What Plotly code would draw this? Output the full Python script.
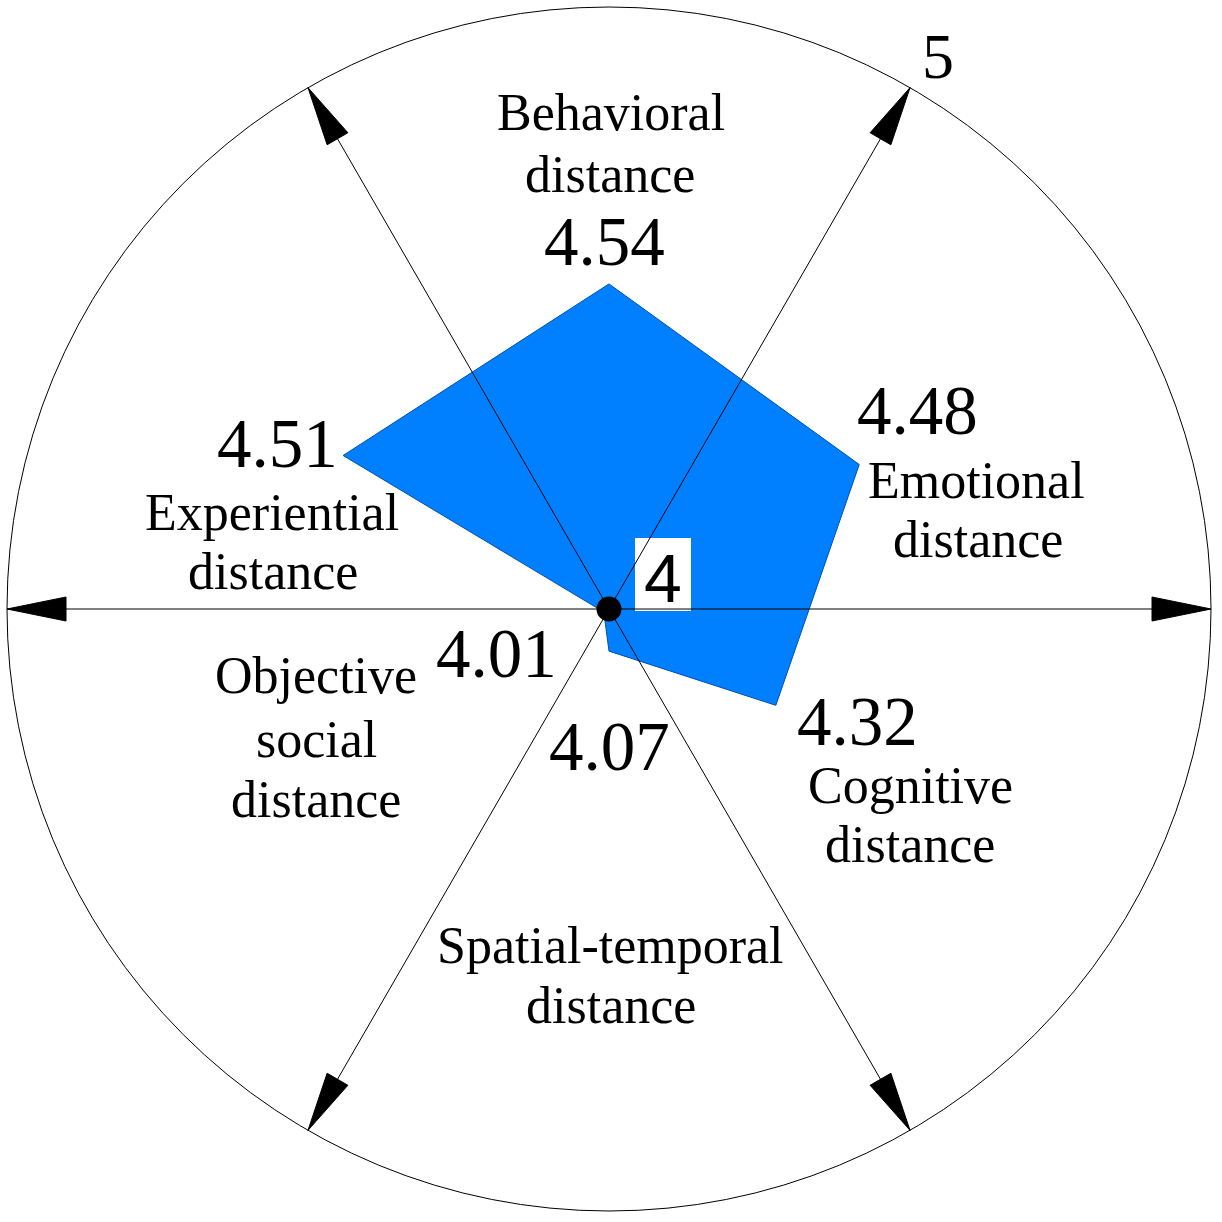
import math
import plotly.graph_objects as go

# ---- data ----
category_lines = [
    ["Behavioral", "distance"],
    ["Emotional", "distance"],
    ["Cognitive", "distance"],
    ["Spatial-temporal", "distance"],
    ["Objective", "social", "distance"],
    ["Experiential", "distance"],
]
values = [4.54, 4.48, 4.32, 4.07, 4.01, 4.51]
axis_angles = [90, 30, -30, -90, -150, 150]      # direction of each category axis (deg)
arrow_angles = [0, 60, 120, 180, 240, 300]       # decorative arrows
r_min, r_max = 4, 5
tick_labels = ["4", "5"]

# ---- layout helpers ----
W = H = 1222
CX, CY = 609, 609      # pixel centre
S = 602                # pixels per unit radius


def p2d(xp, yp):
    return (xp - CX) / S, (CY - yp) / S


def pol(r, ang):
    a = math.radians(ang)
    return r * math.cos(a), r * math.sin(a)


def norm(v):
    return (v - r_min) / (r_max - r_min)


fig = go.Figure()

# polygon
px_, py_ = [], []
for v, a in zip(values, axis_angles):
    x, y = pol(norm(v), a)
    px_.append(x)
    py_.append(y)
fig.add_trace(go.Scatter(
    x=px_ + [px_[0]], y=py_ + [py_[0]], mode="lines", fill="toself",
    fillcolor="#0080FF", line=dict(color="#0050B0", width=1),
    hoverinfo="skip", showlegend=False))

# centre dot
fig.add_trace(go.Scatter(x=[0], y=[0], mode="markers",
                         marker=dict(size=25, color="black"),
                         hoverinfo="skip", showlegend=False))

shapes = []
# outer circle
shapes.append(dict(type="circle", xref="x", yref="y", x0=-1, y0=-1, x1=1, y1=1,
                   line=dict(color="black", width=1), layer="below"))

# white box behind centre tick label "4"
bx0, by0 = p2d(635, 538)
bx1, by1 = p2d(691, 611)
shapes.append(dict(type="rect", xref="x", yref="y", x0=bx0, y0=by1, x1=bx1, y1=by0,
                   fillcolor="white", line=dict(width=0), layer="above"))

# arrows
head_len = 59 / S
head_half = 12 / S
for a in arrow_angles:
    tx, ty = pol(1, a)
    shapes.append(dict(type="line", xref="x", yref="y", x0=0, y0=0, x1=tx, y1=ty,
                       line=dict(color="black", width=1), layer="above"))
    bxc, byc = pol(1 - head_len, a)
    nx, ny = pol(head_half, a + 90)
    path = (f"M {tx},{ty} L {bxc + nx},{byc + ny} L {bxc - nx},{byc - ny} Z")
    shapes.append(dict(type="path", xref="x", yref="y", path=path,
                       fillcolor="black", line=dict(color="black", width=1), layer="above"))

annotations = []
NUM_FONT = dict(family="Liberation Serif", size=69, color="black")
LAB_FONT = dict(family="Liberation Serif", size=52, color="black")

# value labels (pixel offsets from vertex)
value_offsets = [(-5, 42), (58, 54), (82, -17), (0, -96), (-107, -42), (-66, 11)]
for v, a, (dx, dy), x, y in zip(values, axis_angles, value_offsets, px_, py_):
    annotations.append(dict(x=x, y=y, xref="x", yref="y", text=f"{v:.2f}",
                            showarrow=False, xshift=dx, yshift=dy,
                            xanchor="center", yanchor="middle", font=NUM_FONT))

# category labels, one line each (pixel centres)
label_centres = [
    [(611, 112.5), (610, 174.5)],
    [(976, 480.5), (978, 539.5)],
    [(910, 785.5), (910, 844.5)],
    [(610, 945.5), (611, 1005.5)],
    [(316, 675.5), (316, 739.5), (316, 799.5)],
    [(272, 512.5), (273, 571.5)],
]
for lines, centres in zip(category_lines, label_centres):
    for t, (xp, yp) in zip(lines, centres):
        x, y = p2d(xp, yp)
        annotations.append(dict(x=x, y=y, xref="x", yref="y", text=t, showarrow=False,
                                xanchor="center", yanchor="middle", font=LAB_FONT))

# tick labels
x4, y4 = p2d(663, 578)
annotations.append(dict(x=x4, y=y4, xref="x", yref="y", text=tick_labels[0], showarrow=False,
                        xanchor="center", yanchor="middle",
                        font=dict(family="Liberation Sans", size=68, color="black")))
x5, y5 = p2d(938, 56)
annotations.append(dict(x=x5, y=y5, xref="x", yref="y", text=tick_labels[1], showarrow=False,
                        xanchor="center", yanchor="middle",
                        font=dict(family="Liberation Serif", size=64, color="black")))

fig.update_layout(
    width=W, height=H, autosize=False,
    margin=dict(l=0, r=0, t=0, b=0, pad=0),
    paper_bgcolor="white", plot_bgcolor="white",
    xaxis=dict(range=[-CX / S, (W - CX) / S], visible=False, showgrid=False,
               zeroline=False, fixedrange=True),
    yaxis=dict(range=[-(H - CY) / S, CY / S], visible=False, showgrid=False,
               zeroline=False, fixedrange=True),
    shapes=shapes, annotations=annotations, showlegend=False,
)

fig.write_html("out.html", config={"displayModeBar": False},
               post_script="document.body.style.margin='0';")
